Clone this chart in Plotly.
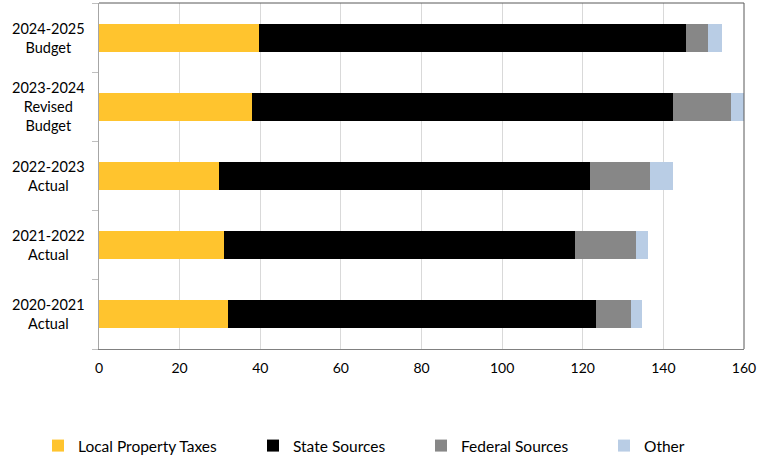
import plotly.graph_objects as go

categories = ["2020-2021<br>Actual", "2021-2022<br>Actual", "2022-2023<br>Actual",
              "2023-2024<br>Revised<br>Budget", "2024-2025<br>Budget"]
local_tax = [32.0, 31.0, 29.7, 38.0, 39.7]
state = [91.2, 87.0, 92.2, 104.4, 105.8]
federal = [8.8, 15.1, 14.7, 14.4, 5.5]
other = [2.8, 3.2, 5.8, 3.4, 3.6]
x_ticks = [0, 20, 40, 60, 80, 100, 120, 140, 160]

series = [
    ("Local Property Taxes", local_tax, "#FFC42E", "legend", 38),
    ("State Sources", state, "#000000", "legend2", 253),
    ("Federal Sources", federal, "#878787", "legend3", 421),
    ("Other", other, "#B9CDE5", "legend4", 604),
]

fig = go.Figure()
font = dict(family="Lato, 'Open Sans', sans-serif", size=14, color="#000000")
legends = {}
for name, vals, color, leg, lx in series:
    fig.add_trace(go.Bar(
        y=categories, x=vals, name=name, orientation="h",
        marker=dict(color=color, line=dict(width=0)),
        width=0.405, legend=leg, showlegend=True,
    ))
    legends[leg] = dict(orientation="h", xref="container", x=lx / 773, xanchor="left",
                        yref="container", y=10 / 456, yanchor="middle",
                        font=dict(size=15.5), itemwidth=30, bgcolor="rgba(0,0,0,0)",
                        visible=True)

for c in categories:
    fig.add_annotation(
        x=-0.079, xref="paper", y=c, yref="y", text=c, showarrow=False,
        align="center", xanchor="center", yanchor="middle",
        font=dict(family=font["family"], size=14.5, color="#000000"),
    )

fig.update_layout(
    barmode="stack",
    width=773, height=456,
    showlegend=True,
    margin=dict(l=99, r=29, t=3, b=107, autoexpand=False),
    paper_bgcolor="white", plot_bgcolor="white",
    font=font,
    shapes=[
        dict(type="line", xref="paper", yref="paper", x0=0, x1=1, y0=1, y1=1,
             line=dict(color="#595959", width=1)),
        dict(type="line", xref="paper", yref="paper", x0=1, x1=1, y0=0, y1=1,
             line=dict(color="#595959", width=1)),
    ],
    **legends,
)
fig.update_xaxes(range=[0, 160], tickvals=x_ticks, showgrid=True, gridcolor="#D9D9D9",
                 gridwidth=1, zeroline=False, showline=True, linecolor="#808080",
                 linewidth=1, ticks="", tickfont=font, ticklabelstandoff=6)
fig.update_yaxes(showticklabels=False, ticks="outside", tickson="boundaries",
                 ticklen=6, tickcolor="#BFBFBF", showline=True, linecolor="#A6A6A6",
                 linewidth=1, showgrid=False, categoryorder="array",
                 categoryarray=categories)

fig.write_html("out.html")
